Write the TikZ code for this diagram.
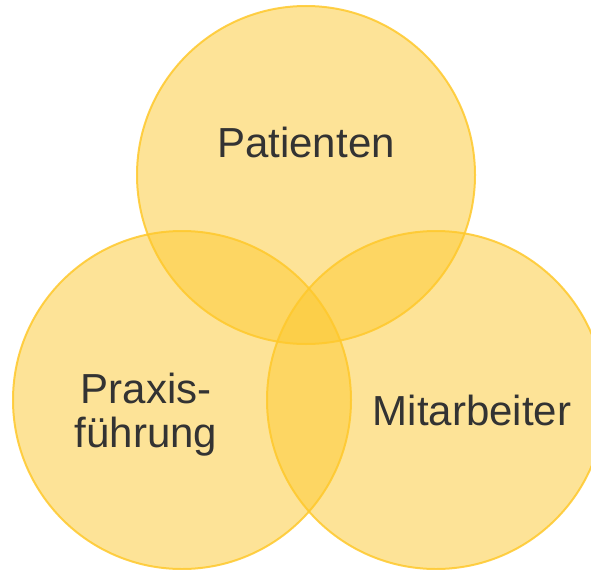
\documentclass[tikz,border=0pt]{standalone}
\usepackage{fontspec}
\setmainfont{Liberation Sans}
\usetikzlibrary{positioning}
\definecolor{vennfill}{HTML}{FCC830}
\definecolor{vennrim}{HTML}{FFC82C}
\definecolor{labeltext}{HTML}{333333}
\tikzset{
  venn fill/.style={
    fill=vennfill,
    fill opacity=0.5
  },
  venn rim/.style={
    draw=vennrim,
    draw opacity=0.85,
    line width=1.5pt
  },
  venn label/.style={
    font=\fontsize{31.5}{33}\selectfont,
    text=labeltext,
    align=center,
    inner sep=0pt
  }
}

\begin{document}
\begin{tikzpicture}[x=0.75pt, y=0.75pt]

  % 1. Rahmen des Bildes
  \useasboundingbox (0,0) rectangle (591,569);
  \clip (0,0) rectangle (591,569);

  % 2. halbtransparente Kreisflaechen (Ueberlappungen werden dunkler)
  \fill[venn fill] (306,394) circle (169);
  \fill[venn fill] (182,169) circle (169);
  \fill[venn fill] (436,169) circle (169);

  % 3. Kreisraender obendrauf
  \draw[venn rim] (306,394) circle (169);
  \draw[venn rim] (182,169) circle (169);
  \draw[venn rim] (436,169) circle (169);

  % 4. Beschriftungen
  \node[venn label, anchor=base] (patienten) at (306,412) {Patienten};
  \node[venn label, anchor=center] (praxis) at (146,154) {Praxis-\\führung};
  \node[venn label, anchor=base] (mitarbeiter) at (472,144) {Mitarbeiter};

\end{tikzpicture}
\end{document}
